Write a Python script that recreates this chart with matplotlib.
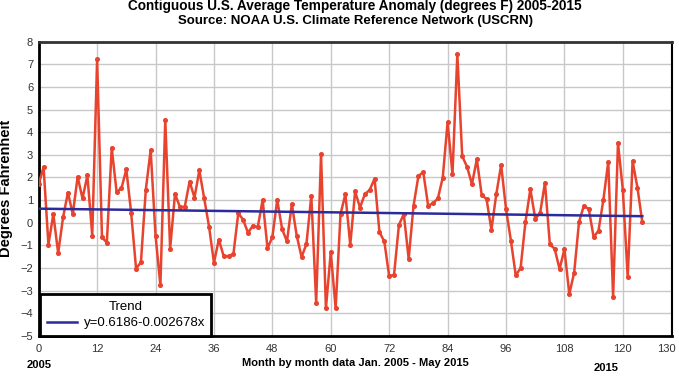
import numpy as np
import matplotlib
matplotlib.use("Agg")
import matplotlib.pyplot as plt
from matplotlib.transforms import ScaledTranslation

plt.rcParams['font.family'] = ['Liberation Sans', 'DejaVu Sans']

# monthly anomalies (deg F), Jan 2005 .. May 2015
anomaly = [
    1.70, 2.46, -0.97, 0.38, -1.35, 0.23, 1.33, 0.38, 2.03, 1.07, 2.09, -0.57,
    7.22, -0.65, -0.88, 3.31, 1.36, 1.52, 2.36, 0.42, -2.03, -1.75, 1.45, 3.22,
    -0.57, -2.77, 4.54, -1.16, 1.27, 0.70, 0.70, 1.82, 1.11, 2.31, 1.07, -0.18,
    -1.77, -0.75, -1.48, -1.48, -1.38, 0.42, 0.13, -0.45, -0.13, -0.20, 1.01, -1.13,
    -0.64, 1.01, -0.28, -0.83, 0.82, -0.57, -1.52, -0.94, 1.19, -3.54, 3.02, -3.79,
    -1.30, -3.79, 0.38, 1.26, -0.98, 1.38, 0.67, 1.26, 1.45, 1.95, -0.42, -0.83,
    -2.37, -2.30, -0.10, 0.38, -1.60, 0.75, 2.06, 2.24, 0.75, 0.86, 1.07, 1.99,
    4.45, 2.14, 7.44, 2.94, 2.47, 1.70, 2.80, 1.23, 1.04, -0.31, 1.26, 2.55,
    0.60, -0.79, -2.33, -2.00, 0.05, 1.48, 0.18, 0.42, 1.77, -0.95, -1.16, -2.05,
    -1.17, -3.16, -2.21, 0.04, 0.75, 0.60, -0.64, -0.35, 1.01, 2.69, -3.28, 3.53,
    1.44, -2.41, 2.72, 1.55, 0.01,
]
trend_intercept = 0.6186
trend_slope = -0.002678
x_ticks = [0, 12, 24, 36, 48, 60, 72, 84, 96, 108, 120, 130]
y_ticks = list(range(-5, 9))

months = np.arange(len(anomaly))
trend = trend_intercept + trend_slope * months

fig = plt.figure(figsize=(6.79, 3.76), dpi=100)
ax = fig.add_axes([0.057, 0.107, 0.932, 0.782])

ax.plot(months, anomaly, color='#e8432e', lw=1.8, marker='o', ms=2.6, zorder=3)
ax.plot(months, trend, color='#2b2b9c', lw=1.8, zorder=4,
        label='y=0.6186-0.002678x')

ax.set_xlim(0, 130)
ax.set_ylim(-5, 8)
ax.set_xticks(x_ticks)
ax.set_yticks(y_ticks)
ax.grid(color='#c8c8c8', lw=1)
ax.set_axisbelow(True)
ax.tick_params(length=0, labelsize=8, colors='#333333')
ax.tick_params(axis='x', pad=6)
ax.tick_params(axis='y', pad=4)
# last tick label sits on the figure edge; nudge it inside
last = ax.get_xticklabels()[-1]
last.set_transform(last.get_transform() + ScaledTranslation(-4 / 72, 0, fig.dpi_scale_trans))

for side in ['left', 'bottom', 'top']:
    ax.spines[side].set_linewidth(2)
    ax.spines[side].set_color('black')
ax.spines['top'].set_color('#333333')
ax.spines['right'].set_linewidth(1.5)

ax.set_xlabel('Month by month data Jan. 2005 - May 2015', fontsize=8,
              fontweight='bold', labelpad=3)
ax.set_ylabel('Degrees Fahrenheit', fontsize=10.5, fontweight='bold', labelpad=5)
ax.text(0, -6.05, '2005', ha='center', va='top', fontsize=8, fontweight='bold')
ax.text(116.5, -6.2, '2015', ha='center', va='top', fontsize=8, fontweight='bold')

fig.text(0.523, 0.984, 'Contiguous U.S. Average Temperature Anomaly (degrees F) 2005-2015',
         ha='center', va='center', fontsize=9.8, fontweight='bold')
fig.text(0.523, 0.944, 'Source: NOAA U.S. Climate Reference Network (USCRN)',
         ha='center', va='center', fontsize=9.5, fontweight='bold')

leg = ax.legend(title='Trend', loc='lower left', bbox_to_anchor=(0.002, 0.0),
                fancybox=False, edgecolor='black', framealpha=1,
                handlelength=2.3, fontsize=9.5, title_fontsize=9.5,
                borderaxespad=0, borderpad=0.5, labelspacing=0.3,
                handletextpad=0.5)
leg.get_frame().set_linewidth(2)

fig.savefig('out.png', dpi=100)
